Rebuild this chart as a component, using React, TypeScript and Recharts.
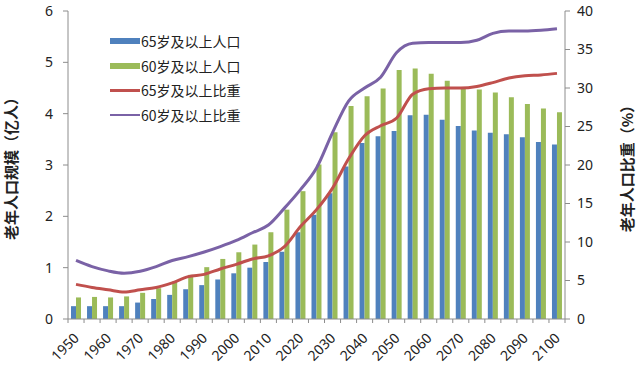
import React from "react"
import { ComposedChart, Bar, Line, XAxis, YAxis } from "recharts"

// 1950..2100, every 5 years
const years = [
  "1950", "1955", "1960", "1965", "1970", "1975", "1980", "1985", "1990", "1995",
  "2000", "2005", "2010", "2015", "2020", "2025", "2030", "2035", "2040", "2045",
  "2050", "2055", "2060", "2065", "2070", "2075", "2080", "2085", "2090", "2095", "2100",
]

// population, 100 million people
const pop65 = [
  0.25, 0.25, 0.25, 0.25, 0.32, 0.39, 0.47, 0.58, 0.66, 0.77,
  0.89, 1.0, 1.11, 1.31, 1.69, 2.03, 2.45, 2.97, 3.43, 3.56,
  3.66, 3.97, 3.98, 3.88, 3.76, 3.67, 3.63, 3.6, 3.54, 3.45, 3.4,
]
const pop60 = [
  0.42, 0.43, 0.42, 0.44, 0.51, 0.6, 0.73, 0.86, 1.01, 1.17,
  1.3, 1.45, 1.69, 2.13, 2.49, 3.01, 3.64, 4.15, 4.34, 4.49,
  4.85, 4.88, 4.78, 4.64, 4.51, 4.47, 4.41, 4.32, 4.19, 4.1, 4.03,
]

// share of total population, %
const share65 = [
  4.5, 4.1, 3.8, 3.5, 3.8, 4.1, 4.7, 5.5, 5.8, 6.5,
  7.1, 7.8, 8.2, 9.4, 12.0, 14.2, 17.0, 20.8, 23.8, 25.1,
  26.1, 29.2, 29.9, 30.0, 30.0, 30.2, 30.7, 31.3, 31.6, 31.7, 31.9,
]
const share60 = [
  7.6, 6.8, 6.25, 5.95, 6.2, 6.8, 7.6, 8.1, 8.7, 9.4,
  10.2, 11.2, 12.2, 14.4, 16.8, 19.6, 24.2, 28.3, 30.0, 31.4,
  34.6, 35.8, 35.9, 35.9, 35.9, 36.2, 37.1, 37.4, 37.4, 37.5, 37.7,
]

const leftTicks = [0, 1, 2, 3, 4, 5, 6]
const rightTicks = [0, 5, 10, 15, 20, 25, 30, 35, 40]

const data = years.map((year, i) => ({
  year,
  pop65: pop65[i],
  pop60: pop60[i],
  share65: share65[i],
  share60: share60[i],
}))

const BLUE = "#4F81BD"
const GREEN = "#9BBB59"
const RED = "#C0504D"
const PURPLE = "#7A62A6"
const AXIS = "#8c8c8c"
const TEXT = "#222"
const CJK = "'Noto Sans CJK SC', 'Noto Sans', sans-serif"

const CHART_W = 640
const LEFT_W = 68
const RIGHT_W = 75
const BAND = (CHART_W - LEFT_W - RIGHT_W) / years.length

const legendItems = [
  { label: "65岁及以上人口", color: BLUE, kind: "bar" },
  { label: "60岁及以上人口", color: GREEN, kind: "bar" },
  { label: "65岁及以上比重", color: RED, kind: "line" },
  { label: "60岁及以上比重", color: PURPLE, kind: "line" },
]

// Excel-style category axis: tick marks between categories, label on every other one
const YearTick = (props: any) => {
  const { x, y, index, payload } = props
  const last = index === years.length - 1
  return (
    <g transform={`translate(${x},${y})`}>
      <line x1={-BAND / 2} x2={-BAND / 2} y1={0} y2={4} stroke={AXIS} />
      {last && <line x1={BAND / 2} x2={BAND / 2} y1={0} y2={4} stroke={AXIS} />}
      {index % 2 === 0 && (
        <g transform="translate(4, 20)">
          <text transform="rotate(-45)" textAnchor="end" fontSize={14} fill={TEXT}>
            {payload.value}
          </text>
        </g>
      )}
    </g>
  )
}

// drawn over the plot, so it takes no room from the axes
const ChartLegend = () => (
  <div
    style={{
      position: "absolute",
      left: 110,
      top: 29,
      fontFamily: CJK,
      fontSize: 14,
      color: TEXT,
      pointerEvents: "none",
    }}
  >
    {legendItems.map((item) => (
      <div
        key={item.label}
        style={{ display: "flex", alignItems: "center", height: 24.5 }}
      >
        <span
          style={{
            display: "inline-block",
            width: 30,
            height: item.kind === "bar" ? 6 : 2.5,
            background: item.color,
            marginRight: 1,
          }}
        />
        <span>{item.label}</span>
      </div>
    ))}
  </div>
)

export default function App() {
  return (
    <div style={{ position: "absolute", left: 0, top: 0, width: 640, height: 383, background: "#fff" }}>
      <ComposedChart
        width={CHART_W}
        height={383}
        data={data}
        margin={{ top: 11, right: 0, bottom: 0, left: 0 }}
        barGap={0}
        style={{ fontFamily: "'Noto Sans', sans-serif" }}
      >
        <XAxis
          dataKey="year"
          interval={0}
          height={64}
          tickLine={false}
          tickSize={0}
          tickMargin={0}
          stroke={AXIS}
          tick={YearTick}
        />
        <YAxis
          yAxisId="left"
          domain={[0, 6]}
          ticks={leftTicks}
          width={LEFT_W}
          tickSize={5}
          tickMargin={10}
          stroke={AXIS}
          tick={{ fontSize: 14, fill: TEXT }}
          label={{
            value: "老年人口规模（亿人）",
            angle: -90,
            position: "insideLeft",
            offset: 12,
            style: { textAnchor: "middle", fontFamily: CJK, fontSize: 15, fontWeight: 700, fill: TEXT },
          }}
        />
        <YAxis
          yAxisId="right"
          orientation="right"
          domain={[0, 40]}
          ticks={rightTicks}
          width={RIGHT_W}
          tickSize={5}
          tickMargin={7}
          stroke={AXIS}
          tick={{ fontSize: 14, fill: TEXT }}
          label={{
            value: "老年人口比重（%）",
            angle: -90,
            position: "insideRight",
            offset: 12,
            style: { textAnchor: "middle", fontFamily: CJK, fontSize: 15, fontWeight: 700, fill: TEXT },
          }}
        />
        <Bar yAxisId="left" dataKey="pop65" fill={BLUE} barSize={5} isAnimationActive={false} />
        <Bar yAxisId="left" dataKey="pop60" fill={GREEN} barSize={5} isAnimationActive={false} />
        <Line
          yAxisId="right"
          dataKey="share65"
          type="monotone"
          stroke={RED}
          strokeWidth={3}
          dot={false}
          isAnimationActive={false}
        />
        <Line
          yAxisId="right"
          dataKey="share60"
          type="monotone"
          stroke={PURPLE}
          strokeWidth={3}
          dot={false}
          isAnimationActive={false}
        />
      </ComposedChart>
      <ChartLegend />
    </div>
  )
}
